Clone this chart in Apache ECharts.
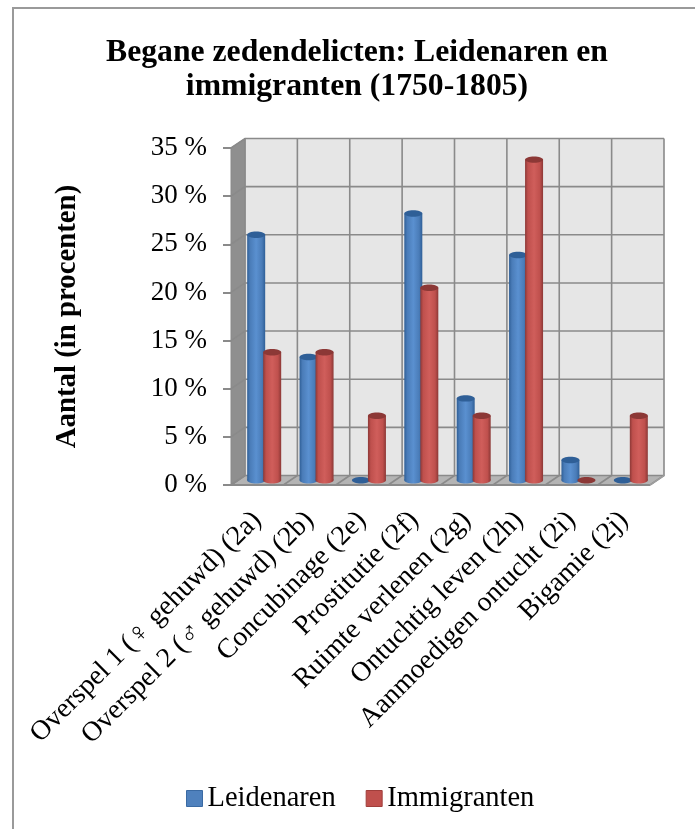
<!DOCTYPE html>
<html><head><meta charset="utf-8">
<style>html,body{margin:0;padding:0;background:#fff}#c{width:695px;height:829px}</style>
<script src="https://cdn.jsdelivr.net/npm/echarts@6/dist/echarts.min.js"></script>
</head><body><div id="c"></div>
<script>
const categories = ['Overspel 1 (♀ gehuwd) (2a)','Overspel 2 (♂ gehuwd) (2b)','Concubinage (2e)','Prostitutie (2f)','Ruimte verlenen (2g)','Ontuchtig leven (2h)','Aanmoedigen ontucht (2i)','Bigamie (2j)'];
const leidenaren = [25.5,12.8,0,27.7,8.5,23.4,2.1,0];
const immigranten = [13.3,13.3,6.7,20,6.7,33.3,0,6.7];
const yTicks = [0,5,10,15,20,25,30,35];
const serifFont = '"Liberation Serif"';
const depthX = 14, depthY = -9.5;
const barW = 18;

function wall(params, api){
  const kids = [];
  const bw = api.size([1,0])[0];
  const x0 = api.coord([0,0])[0]-bw/2, x1 = x0 + bw*categories.length;
  const y0 = api.coord([0,0])[1], yT = api.coord([0,yTicks[yTicks.length-1]])[1];
  const dx = depthX, dy = depthY;
  const line = '#8a8a8a';
  kids.push({type:'polygon',shape:{points:[[x0+dx,yT+dy],[x1+dx,yT+dy],[x1+dx,y0+dy],[x0+dx,y0+dy]]},style:{fill:'#e6e6e6'}});
  kids.push({type:'polygon',shape:{points:[[x0,yT],[x0+dx,yT+dy],[x0+dx,y0+dy],[x0,y0]]},style:{fill:'#8f8f8f',stroke:line,lineWidth:1}});
  kids.push({type:'polygon',shape:{points:[[x0,y0],[x0+dx,y0+dy],[x1+dx,y0+dy],[x1,y0]]},style:{fill:'#b4b4b4'}});
  yTicks.forEach(t=>{
    const y = api.coord([0,t])[1];
    kids.push({type:'polyline',shape:{points:[[x0,y],[x0+dx,y+dy],[x1+dx,y+dy]]},style:{fill:null,stroke:line,lineWidth:1.6}});
  });
  for(let i=0;i<=categories.length;i++){
    const x = x0+bw*i;
    kids.push({type:'polyline',shape:{points:[[x,y0],[x+dx,y0+dy],[x+dx,yT+dy]]},style:{fill:null,stroke:line,lineWidth:1.6}});
  }
  kids.push({type:'line',shape:{x1:x0,y1:y0,x2:x1,y2:y0},style:{stroke:line,lineWidth:2}});
  kids.push({type:'line',shape:{x1:x1,y1:y0,x2:x1+dx,y2:y0+dy},style:{stroke:'#a0a0a0',lineWidth:1.5}});
  return {type:'group',children:kids};
}

function cylinder(shift, light, mid, dark, top){
  return function(params, api){
    const c = api.value(0), v = api.value(1);
    const base = api.coord([c,0]), tip = api.coord([c,v]);
    const cx = base[0] + shift + depthX/2;
    const yb = base[1] + depthY/2, yt = tip[1] + depthY/2;
    const rx = barW/2, ry = 3.2;
    const kids = [];
    if (v > 0) {
      const grad = {type:'linear',x:0,y:0,x2:1,y2:0,colorStops:[
        {offset:0,color:dark},{offset:0.16,color:mid},{offset:0.5,color:light},{offset:0.82,color:mid},{offset:1,color:dark}]};
      kids.push({type:'ellipse',shape:{cx:cx,cy:yb,rx:rx,ry:ry},style:{fill:grad}});
      kids.push({type:'rect',shape:{x:cx-rx,y:yt,width:barW,height:yb-yt},style:{fill:grad}});
    }
    kids.push({type:'ellipse',shape:{cx:cx,cy:yt,rx:rx,ry:ry},style:{fill:top}});
    return {type:'group',children:kids};
  };
}

const chart = echarts.init(document.getElementById('c'), null, {renderer:'canvas'});
chart.setOption({
  animation:false,
  backgroundColor:'#fff',
  textStyle:{fontFamily:serifFont},
  title:{text:'Begane zedendelicten: Leidenaren en\nimmigranten (1750-1805)',left:352,top:31,textAlign:'center',
    textStyle:{fontFamily:serifFont,fontWeight:'bold',fontSize:31.7,lineHeight:34,color:'#000'}},
  legend:{data:[{name:'Leidenaren',itemStyle:{color:'#4f81bd',borderColor:'#3a6aa3',borderWidth:1}},{name:'Immigranten',itemStyle:{color:'#c0504d',borderColor:'#a03e3b',borderWidth:1}}],
    left:181,top:779,icon:'rect',itemWidth:16,itemHeight:16,itemGap:30,
    textStyle:{fontFamily:serifFont,fontSize:28.5,color:'#000'}},
  grid:{left:231,right:45,top:148,bottom:344,containLabel:false},
  xAxis:{type:'category',data:categories,boundaryGap:true,
    axisLine:{show:false},axisTick:{show:false},
    axisLabel:{interval:0,rotate:45,margin:31,fontFamily:serifFont,fontSize:27.8,color:'#000'}},
  yAxis:{type:'value',min:0,max:35,interval:5,
    name:'Aantal (in procenten)',nameLocation:'middle',nameGap:149,
    nameTextStyle:{fontFamily:serifFont,fontWeight:'bold',fontSize:28.8,color:'#000'},
    axisLine:{show:false},splitLine:{show:false},
    axisTick:{show:true,length:8,lineStyle:{color:'#8a8a8a',width:2}},
    axisLabel:{formatter:'{value} %',margin:24,padding:[4,0,0,0],fontFamily:serifFont,fontSize:27,color:'#000'}},
  series:[
    {name:'walls',type:'custom',silent:true,z:1,clip:false,renderItem:wall,data:[[0,0]],encode:{x:0,y:1}},
    {name:'Leidenaren',type:'custom',z:3,clip:false,itemStyle:{color:'#4f81bd'},
      renderItem:cylinder(-8,'#5a90d0','#4a7cb8','#2f5f97','#2f5f97'),
      data:leidenaren.map((v,i)=>[i,v]),encode:{x:0,y:1}},
    {name:'Immigranten',type:'custom',z:4,clip:false,itemStyle:{color:'#c0504d'},
      renderItem:cylinder(8,'#d05e5b','#bf504d','#8c3836','#8c3836'),
      data:immigranten.map((v,i)=>[i,v]),encode:{x:0,y:1}}
  ],
  graphic:[{type:'polyline',silent:true,shape:{points:[[13,835],[13,8],[700,8]]},style:{fill:'none',stroke:'#9a9a9a',lineWidth:2}}]
});
</script></body></html>
